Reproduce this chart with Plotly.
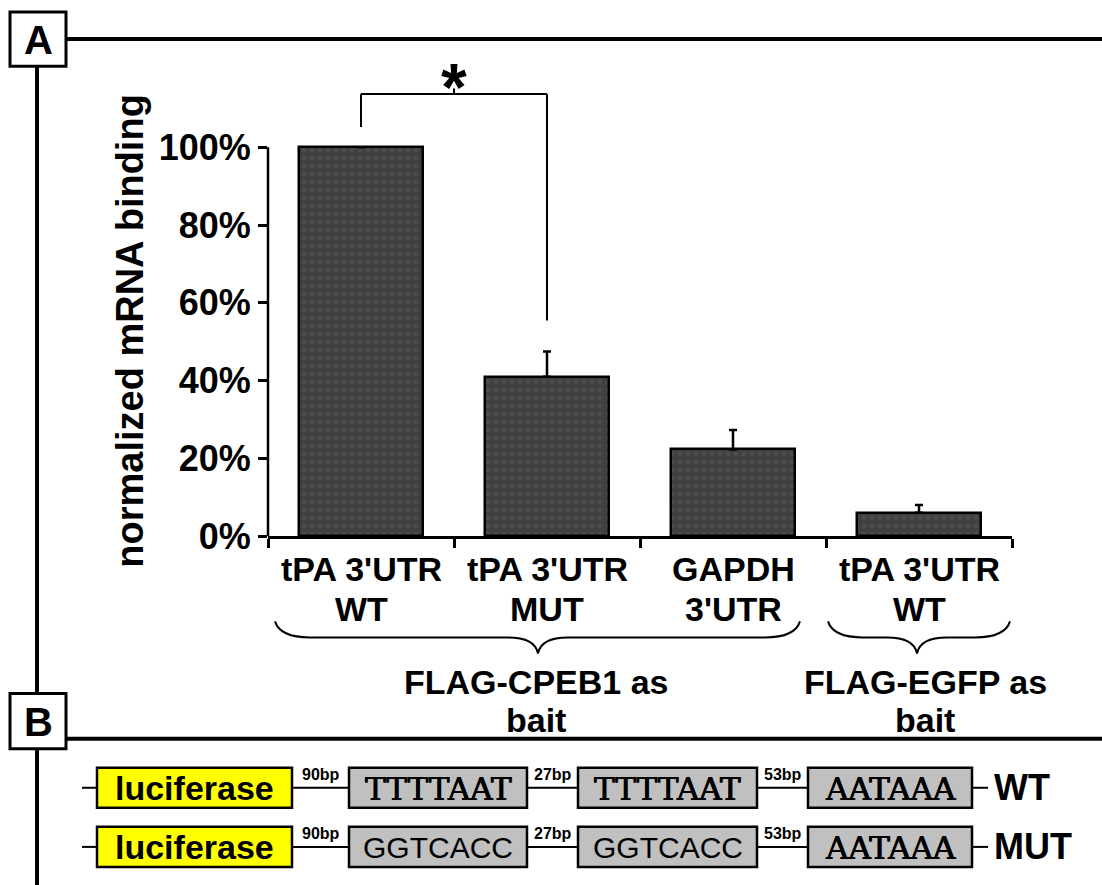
import plotly.graph_objects as go

# ---------------- data ----------------
categories = ["tPA 3'UTR<br>WT", "tPA 3'UTR<br>MUT", "GAPDH<br>3'UTR", "tPA 3'UTR<br>WT"]
binding_pct = [100.0, 41.0, 22.3, 6.0]
binding_err = [0.0, 6.5, 5.0, 2.0]
y_ticks = [0, 20, 40, 60, 80, 100]
groups = ["FLAG-CPEB1 as<br>bait", "FLAG-EGFP as<br>bait"]

construct_names = ["WT", "MUT"]
cpe_sites = {"WT": ["TTTTAAT", "TTTTAAT"], "MUT": ["GGTCACC", "GGTCACC"]}
polya_signal = "AATAAA"
spacer_labels = ["90bp", "27bp", "53bp"]

# ---------------- page geometry (pixels) ----------------
W, H = 1102, 885          # drawing grid used for placing the schematic
FIG_H = 908               # figure height
FONT = "Liberation Sans, Arial, sans-serif"
SERIF = "DejaVu Serif, serif"
SERIF_SHADOW = "0.6px 0 0 #000, -0.3px 0 0 #000"


def px(x):
    return x / W


def py(y):
    return 1 - y / H


PLOT_X0, PLOT_X1 = 268, 1012
PLOT_Y0, PLOT_Y_TOP = 535, 50          # rows of y=0 and y=Y_MAX
Y_MAX = 125

fig = go.Figure()

fig.add_trace(go.Bar(
    x=list(range(len(categories))),
    y=binding_pct,
    width=0.667,
    marker=dict(
        color="#404040",
        line=dict(color="black", width=2.5),
        pattern=dict(shape=".", bgcolor="#404040", fgcolor="#585858",
                     size=8, solidity=0.3),
    ),
    error_y=dict(type="data", symmetric=False, array=binding_err,
                 arrayminus=[0] * len(binding_err),
                 color="black", thickness=2.5, width=4),
    showlegend=False,
    hoverinfo="skip",
))

shapes = []
annotations = []


def line(x0, y0, x1, y1, w=2):
    shapes.append(dict(type="line", xref="paper", yref="paper",
                       x0=px(x0), y0=py(y0), x1=px(x1), y1=py(y1),
                       line=dict(color="black", width=w)))


def rect(x0, y0, x1, y1, fill, w=2.5):
    shapes.append(dict(type="rect", xref="paper", yref="paper",
                       x0=px(x0), y0=py(y0), x1=px(x1), y1=py(y1),
                       fillcolor=fill, line=dict(color="black", width=w)))


def text(x, y, s, size, family=FONT, weight="bold", xanchor="center", shadow="none"):
    annotations.append(dict(xref="paper", yref="paper", x=px(x), y=py(y),
                            text=s, showarrow=False, xanchor=xanchor,
                            yanchor="middle",
                            font=dict(family=family, size=size, color="black",
                                      weight=weight, shadow=shadow)))


# ---------------- panel frame ----------------
line(66, 39, W, 39, 4)
line(37, 66, 37, 692, 4)
line(66, 737, W, 737, 4)
line(37, 747, 37, H, 4)
rect(10, 12, 66, 66, "white", 3)
rect(10, 692, 66, 747, "white", 3)
text(38, 40, "A", 40)
text(38, 720, "B", 40)

# ---------------- panel A axes extras ----------------
# y axis line only spans 0..100 %
shapes.append(dict(type="line", xref="paper", yref="y",
                   x0=px(PLOT_X0), x1=px(PLOT_X0), y0=0, y1=y_ticks[-1],
                   line=dict(color="black", width=2.5)))

# significance bracket between the first two bars
br_top = 113.7
br_left_end = binding_pct[0] + 5.2
br_right_end = binding_pct[1] + binding_err[1] + 8
for (x0, y0, x1, y1) in [(0, br_left_end, 0, br_top), (0, br_top, 1, br_top),
                         (1, br_top, 1, br_right_end), (0.5, br_top, 0.5, br_top + 1.4)]:
    shapes.append(dict(type="line", xref="x", yref="y", x0=x0, y0=y0, x1=x1, y1=y1,
                       line=dict(color="black", width=2)))
annotations.append(dict(xref="x", yref="y", x=0.5, y=115.5, text="*",
                        showarrow=False, xanchor="center", yanchor="middle",
                        font=dict(family=FONT, size=66, color="black", weight="bold")))

# y axis title
annotations.append(dict(xref="paper", yref="paper", x=px(130), y=py(330),
                        text="normalized mRNA binding", textangle=-90,
                        showarrow=False, xanchor="center", yanchor="middle",
                        font=dict(family=FONT, size=38, color="black", weight="bold")))

# category labels (two lines each)
for i, cat in enumerate(categories):
    for j, part in enumerate(cat.split("<br>")):
        annotations.append(dict(xref="x", yref="paper", x=i, y=py(568 + 40 * j),
                                text=part, showarrow=False, xanchor="center",
                                yanchor="middle",
                                font=dict(family=FONT, size=34, color="black",
                                          weight="bold")))


# curly braces grouping the bars
def brace(x0, x1, xm, ytop=620, ymid=636, ytip=652):
    pts = [
        f"M {px(x0)},{py(ytop)}",
        f"Q {px(x0 + 5)},{py(ymid)} {px(x0 + 35)},{py(ymid)}",
        f"L {px(xm - 30)},{py(ymid)}",
        f"Q {px(xm - 3)},{py(ymid)} {px(xm)},{py(ytip)}",
        f"Q {px(xm + 3)},{py(ymid)} {px(xm + 30)},{py(ymid)}",
        f"L {px(x1 - 35)},{py(ymid)}",
        f"Q {px(x1 - 5)},{py(ymid)} {px(x1)},{py(ytop)}",
    ]
    shapes.append(dict(type="path", xref="paper", yref="paper", path=" ".join(pts),
                       line=dict(color="black", width=2)))


brace(275, 800, 538)
brace(828, 1010, 917)

for gx, g in zip([536, 925], groups):
    for j, part in enumerate(g.split("<br>")):
        text(gx, 680 + 38 * j, part, 34)

# ---------------- panel B: reporter constructs ----------------
row_y = {"WT": 786, "MUT": 845}
half_h = 20
boxes_x = [(97, 292), (349, 527), (578, 757), (808, 972)]
for name in construct_names:
    cy = row_y[name]
    line(82, cy, boxes_x[0][0], cy)
    for k in range(len(boxes_x) - 1):
        xa = boxes_x[k][1]
        xb = boxes_x[k + 1][0]
        line(xa, cy, xb, cy)
        text((xa + xb) / 2, cy - 13, spacer_labels[k], 16)
    line(boxes_x[-1][1], cy, 988, cy)

    rect(boxes_x[0][0], cy - half_h, boxes_x[0][1], cy + half_h, "#ffff00")
    text((boxes_x[0][0] + boxes_x[0][1]) / 2, cy, "luciferase", 34)

    for k, site in enumerate(cpe_sites[name]):
        bx0, bx1 = boxes_x[1 + k]
        rect(bx0, cy - half_h, bx1, cy + half_h, "#c0c0c0")
        if name == "WT":
            text((bx0 + bx1) / 2, cy + 1, site, 31, family=SERIF, weight="normal",
                 shadow=SERIF_SHADOW)
        else:
            text((bx0 + bx1) / 2, cy + 1, site, 30, weight="normal")

    bx0, bx1 = boxes_x[3]
    rect(bx0, cy - half_h, bx1, cy + half_h, "#c0c0c0")
    text((bx0 + bx1) / 2, cy + 1, polya_signal, 31, family=SERIF, weight="normal",
         shadow=SERIF_SHADOW)

    text(992, cy, name, 36, xanchor="left")

fig.update_layout(
    width=W, height=FIG_H,
    margin=dict(l=0, r=0, t=0, b=0),
    paper_bgcolor="white", plot_bgcolor="white",
    bargap=0,
    xaxis=dict(domain=[px(PLOT_X0), px(PLOT_X1)], range=[-0.5, len(categories) - 0.5],
               tickvals=[i - 0.5 for i in range(len(categories) + 1)],
               showticklabels=False, ticks="outside", ticklen=9, tickwidth=2.5,
               tickcolor="black", showline=True, linecolor="black", linewidth=2.5,
               showgrid=False, zeroline=False, fixedrange=True),
    yaxis=dict(domain=[py(PLOT_Y0), py(PLOT_Y_TOP)], range=[0, Y_MAX],
               tickvals=y_ticks, ticktext=[f"{t}%" for t in y_ticks],
               ticks="outside", ticklen=9, tickwidth=2.5, tickcolor="black",
               tickfont=dict(family=FONT, size=36, color="black", weight="bold"),
               showline=False, showgrid=False, zeroline=False, fixedrange=True),
    shapes=shapes,
    annotations=annotations,
)

fig.write_html("out.html")
